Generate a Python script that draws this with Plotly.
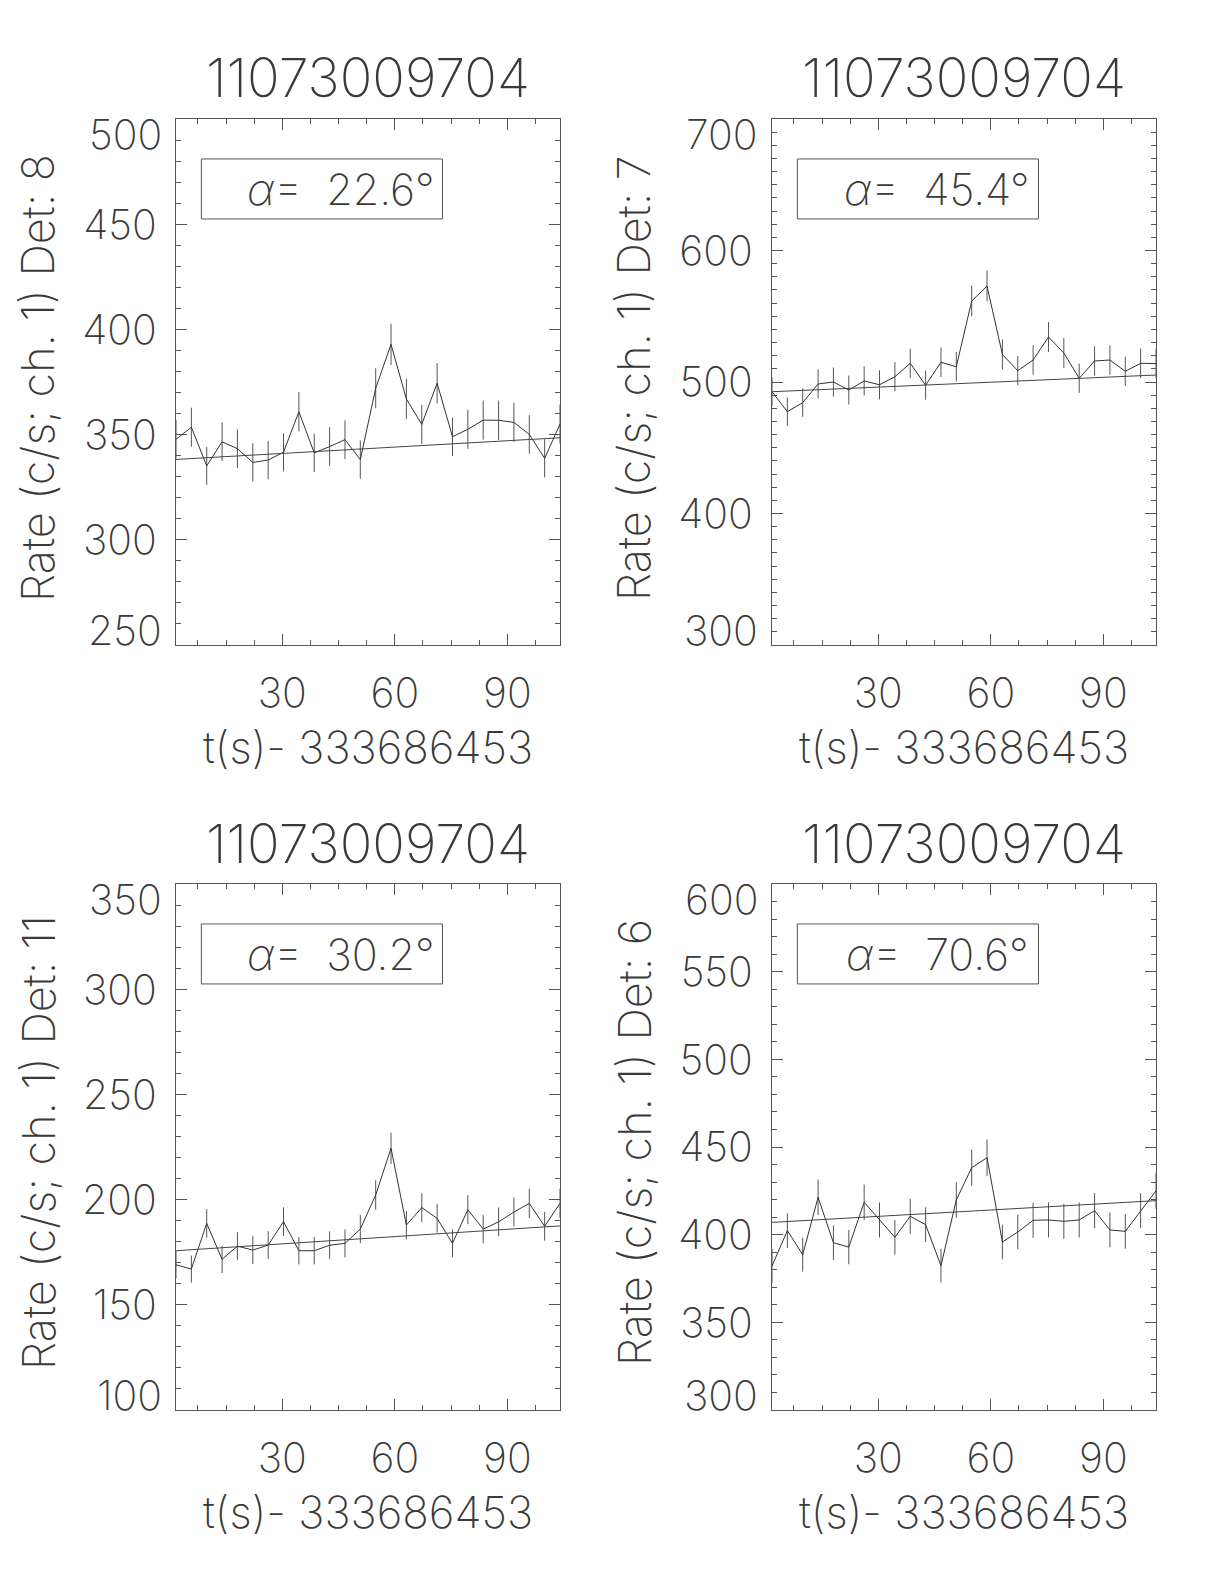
import plotly.graph_objects as go

# ---------------- data ----------------
time_s = [1.65, 5.75, 9.84, 13.94, 18.03, 22.13, 26.23, 30.32, 34.42, 38.51,
          42.61, 46.71, 50.80, 54.90, 58.99, 63.09, 67.19, 71.28, 75.38, 79.47,
          83.57, 87.67, 91.76, 95.86, 99.95, 104.05]
t_fit = [1.65, 104.05]

det8_rate = [347.8, 353.5, 335.1, 346.6, 343.3, 336.8, 337.9, 341.6, 360.9, 341.3,
             344.3, 347.6, 338.1, 372.0, 392.9, 366.9, 354.9, 374.4, 349.0, 352.5,
             356.9, 356.8, 355.8, 350.1, 338.7, 355.0]
det8_err = [9.2, 9.3, 9.0, 9.2, 9.2, 9.1, 9.1, 9.1, 9.4, 9.1, 9.2, 9.2, 9.1, 9.5,
            9.8, 9.5, 9.3, 9.6, 9.2, 9.3, 9.3, 9.3, 9.3, 9.2, 9.1, 9.3]
det8_fit = [338.2, 348.5]

det7_rate = [492.6, 477.4, 484.3, 498.5, 500.0, 493.9, 500.8, 497.9, 504.0, 514.2,
             497.5, 515.0, 511.6, 561.6, 573.0, 521.0, 508.6, 516.7, 534.2, 522.1,
             502.8, 516.0, 516.7, 508.1, 514.2, 514.0]
det7_err = [11.0, 10.8, 10.9, 11.0, 11.0, 11.0, 11.1, 11.0, 11.1, 11.2, 11.0, 11.2,
            11.2, 11.7, 11.8, 11.3, 11.1, 11.2, 11.4, 11.3, 11.1, 11.2, 11.2, 11.1,
            11.2, 11.2]
det7_fit = [492.6, 505.3]

det11_rate = [169.0, 167.0, 188.7, 171.6, 177.9, 176.0, 178.4, 189.5, 175.7, 175.7,
              178.3, 179.2, 186.0, 202.2, 224.4, 187.9, 196.2, 191.1, 179.2, 195.2,
              186.0, 189.4, 194.1, 198.2, 187.3, 198.2]
det11_err = [6.4, 6.4, 6.8, 6.5, 6.6, 6.6, 6.6, 6.8, 6.5, 6.5, 6.6, 6.6, 6.7, 7.0,
             7.4, 6.8, 6.9, 6.8, 6.6, 6.9, 6.7, 6.8, 6.9, 7.0, 6.8, 7.0]
det11_fit = [175.7, 187.5]

det6_rate = [382.1, 402.3, 388.6, 421.3, 395.4, 392.9, 418.5, 408.4, 398.5, 410.5,
             405.7, 382.3, 419.8, 438.2, 443.9, 395.8, 401.5, 408.2, 408.4, 407.6,
             408.4, 413.7, 402.7, 401.9, 413.7, 425.0]
det6_err = [9.7, 9.9, 9.7, 10.1, 9.8, 9.8, 10.1, 10.0, 9.9, 10.0, 9.9, 9.7, 10.1,
            10.3, 10.4, 9.8, 9.9, 10.0, 10.0, 10.0, 10.0, 10.0, 9.9, 9.9, 10.0, 10.2]
det6_fit = [407.0, 419.4]

burst_id = "11073009704"
x_title = "t(s)- 333686453"
x_ticks = [30, 60, 90]

det8_yticks = [250, 300, 350, 400, 450, 500]
det7_yticks = [300, 400, 500, 600, 700]
det11_yticks = [100, 150, 200, 250, 300, 350]
det6_yticks = [300, 350, 400, 450, 500, 550, 600]

panels = [
    dict(det="8", alpha="22.6", rate=det8_rate, err=det8_err, fit=det8_fit,
         yticks=det8_yticks),
    dict(det="7", alpha="45.4", rate=det7_rate, err=det7_err, fit=det7_fit,
         yticks=det7_yticks),
    dict(det="11", alpha="30.2", rate=det11_rate, err=det11_err, fit=det11_fit,
         yticks=det11_yticks),
    dict(det="6", alpha="70.6", rate=det6_rate, err=det6_err, fit=det6_fit,
         yticks=det6_yticks),
]

# ---------------- layout geometry (pixels, page coords) ----------------
OFF = 8  # body margin of the html page
W, H = 1224 - 2 * OFF, 1584 - 2 * OFF
col_px = [(176, 560), (772, 1156)]
row_px = [(119, 645), (884, 1410)]


def px(x):
    return (x - OFF) / W


def py(y):
    return 1 - (y - OFF) / H


FONT = "Inter"
FW = 200
TXT = "#3a3a3a"
LINE = "#555555"
TICK_SIZE = 41


def tfont(size):
    return dict(family=FONT, size=size, color=TXT, weight=FW)


fig = go.Figure()
annotations = []
shapes = []
layout = dict(width=W, height=H, margin=dict(l=0, r=0, t=0, b=0, pad=0),
              paper_bgcolor="white", plot_bgcolor="white", showlegend=False,
              font=tfont(40))

for i, p in enumerate(panels):
    r, c = divmod(i, 2)
    x0, x1 = col_px[c]
    y0, y1 = row_px[r]
    sfx = "" if i == 0 else str(i + 1)
    xa, ya = "x" + sfx, "y" + sfx
    yt = p["yticks"]

    fig.add_trace(go.Scatter(
        x=time_s, y=p["rate"], mode="lines", xaxis=xa, yaxis=ya,
        line=dict(color="#333333", width=1),
        error_y=dict(type="data", array=p["err"], visible=True, width=0,
                     thickness=1, color="#555555")))
    fig.add_trace(go.Scatter(
        x=t_fit, y=p["fit"], mode="lines", xaxis=xa, yaxis=ya,
        line=dict(color="#444444", width=1)))

    axcommon = dict(showline=True, linecolor=LINE, linewidth=1, mirror="allticks",
                    ticks="inside", tickcolor=LINE, tickwidth=1, ticklen=11,
                    showgrid=False, zeroline=False, automargin=False,
                    tickfont=tfont(TICK_SIZE))
    layout["xaxis" + sfx] = dict(
        axcommon, domain=[px(x0), px(x1)], range=[t_fit[0], t_fit[1]],
        tickmode="array", tickvals=x_ticks, anchor=ya, ticklabelstandoff=12,
        minor=dict(ticks="inside", ticklen=5, tick0=0, dtick=7.5,
                   tickcolor=LINE, showgrid=False))
    # IDL keeps the first and last y labels inside the axis span:
    # interior labels on the axis, end labels as shifted annotations.
    ytext = [""] + [str(v) for v in yt[1:-1]] + [""]
    layout["yaxis" + sfx] = dict(
        axcommon, domain=[py(y1), py(y0)], range=[yt[0], yt[-1]],
        tickmode="array", tickvals=yt, ticktext=ytext, anchor=xa,
        ticklabelstandoff=10,
        minor=dict(ticks="inside", ticklen=5, tick0=0, dtick=10,
                   tickcolor=LINE, showgrid=False))
    for val, shift in ((yt[-1], -15), (yt[0], 15)):
        annotations.append(dict(text=str(val), xref=xa + " domain", yref=ya,
                                x=0, y=val, xanchor="right", yanchor="middle",
                                xshift=-12, yshift=shift, showarrow=False,
                                font=tfont(TICK_SIZE)))

    cx = px((x0 + x1) / 2)
    annotations.append(dict(text=burst_id, xref="paper", yref="paper",
                            x=cx, y=py(y0 - 41), xanchor="center",
                            yanchor="middle", showarrow=False, font=tfont(54)))
    annotations.append(dict(text=x_title, xref="paper", yref="paper",
                            x=cx, y=py(y1 + 102), xanchor="center",
                            yanchor="middle", showarrow=False, font=tfont(44)))
    annotations.append(dict(text="Rate (c/s; ch. 1) Det: " + p["det"],
                            xref="paper", yref="paper", textangle=-90,
                            x=px(x0 - 138), y=py((y0 + y1) / 2 - 4),
                            xanchor="center", yanchor="middle", showarrow=False,
                            font=tfont(45)))
    shapes.append(dict(type="rect", xref=xa + " domain", yref=ya + " domain",
                       x0=0.066, x1=0.694, y0=0.810, y1=0.924,
                       line=dict(color=LINE, width=1), fillcolor="rgba(0,0,0,0)"))
    annotations.append(dict(text="<i>α</i>=\u00a0 " + p["alpha"] + "°",
                            xref=xa + " domain", yref=ya + " domain",
                            x=0.43, y=0.867, xanchor="center", yanchor="middle",
                            showarrow=False, font=tfont(43)))

layout["annotations"] = annotations
layout["shapes"] = shapes
fig.update_layout(**layout)
fig.write_html("out.html")
